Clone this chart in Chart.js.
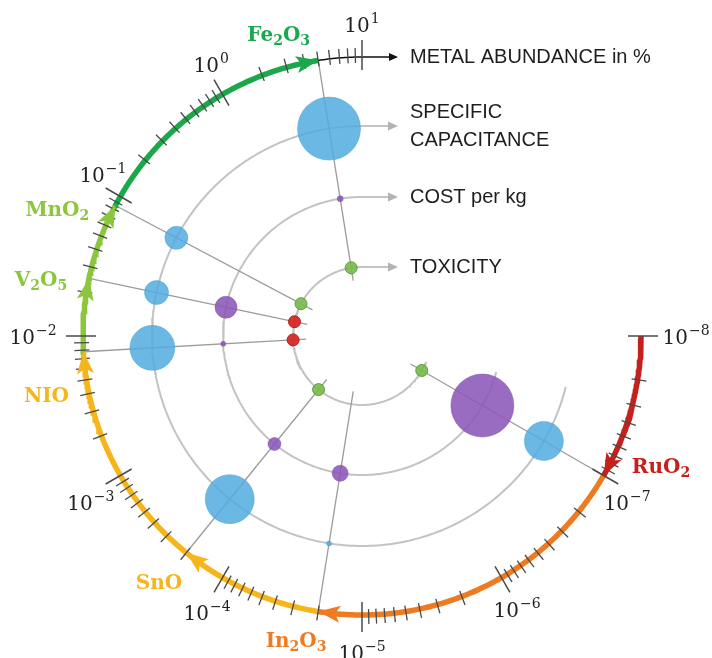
<!DOCTYPE html>
<html>
<head>
<meta charset="utf-8">
<script src="https://cdn.jsdelivr.net/npm/chart.js@4.4.0/dist/chart.umd.min.js"></script>
<style>
  html, body { margin: 0; padding: 0; background: #ffffff; }
  #wrap { width: 712px; height: 658px; }
</style>
</head>
<body>
<div id="wrap"><canvas id="chart" width="712" height="658"></canvas></div>
<script>
// ---- data -------------------------------------------------------------
const materials   = ['Fe2O3', 'MnO2', 'V2O5', 'NIO', 'SnO', 'In2O3', 'RuO2'];
// metal abundance in the Earth's crust, %
const abundance   = [5.0, 0.085, 0.025, 0.0078, 0.0002, 0.00002, 0.0000001];
// specific capacitance, relative score (bubble radius grows with it)
const capacitance = [31.5, 11.5, 12, 22.5, 24.5, 2.5, 19.5];
// cost per kg, relative score
const cost        = [3, 0, 11, 2.5, 6.5, 8, 31.5];
// toxicity class
const toxicity    = ['low', 'low', 'high', 'high', 'low', null, 'low'];
// decades shown on the abundance axis
const decadeExponents = [1, 0, -1, -2, -3, -4, -5, -6, -7, -8];
const ringTitles = [['SPECIFIC', 'CAPACITANCE'], ['COST per kg'], ['TOXICITY']];
const axisTitle = 'METAL ABUNDANCE in %';

// ---- geometry ----------------------------------------------------------
const W = 712, H = 658, CX = 362, CY = 336;
const AXIS_R = 279;               // radius of the abundance axis
const RING_R = [210, 139, 69];    // capacitance, cost, toxicity rings
const RING_END = [346, 345, 338]; // where each ring stops (deg)
const ARROW_X = 36;               // tip of the horizontal arrows
const SPOKE_IN = 56;
const CAP_SCALE = 1, COST_SCALE = 1, TOX_R = 6;

const rad = d => d * Math.PI / 180;
const pol = (deg, r) => ({ x: r * Math.cos(rad(deg)), y: r * Math.sin(rad(deg)) });
// log axis: 10^1 at the top, 30 degrees per decade, counter-clockwise
const angleOf = v => 90 + 30 * (1 - Math.log10(v));
const theta = abundance.map(angleOf);

const matColor = ['#1AA84A', '#8CC63F', '#8CC63F', '#F5B51B', '#F5B51B', '#EE7B22', '#C4201C'];

function ringPath(r, endDeg) {
  const pts = [{ x: ARROW_X - 7, y: r }, { x: 0, y: r }];
  for (let a = 91; a < endDeg; a += 1) pts.push(pol(a, r));
  pts.push(pol(endDeg, r));
  return pts;
}

// coloured part of the abundance axis, 10^-8 back up to the first oxide
const thTop = Math.min(...theta);
let arcAngles = [];
for (let a = 360; a > thTop; a -= 0.5) arcAngles.push(a);
theta.forEach(t => arcAngles.push(t));
arcAngles = [...new Set(arcAngles)].sort((a, b) => b - a);
const arcPts = arcAngles.map(a => pol(a, AXIS_R));

function destColor(a) {
  let best = -1, bt = -Infinity;
  theta.forEach((t, i) => { if (t < a && t > bt) { bt = t; best = i; } });
  return best >= 0 ? matColor[best] : '#000';
}

// black stub of the axis past the last oxide
const topPts = [];
for (let a = thTop; a > 90; a -= 0.5) topPts.push(pol(a, AXIS_R));
topPts.push({ x: 0, y: AXIS_R }, { x: ARROW_X - 6, y: AXIS_R });

const lineDs = (data, color, width, order, extra = {}) => Object.assign({
  type: 'scatter', data, showLine: true, borderColor: color, borderWidth: width,
  pointRadius: 0, pointHoverRadius: 0, fill: false, tension: 0, order
}, extra);

const datasets = [];
RING_R.forEach((r, k) => datasets.push(lineDs(ringPath(r, RING_END[k]), '#C3C3C3', 2, 8)));
theta.forEach(t => datasets.push(lineDs([pol(t, AXIS_R), pol(t, SPOKE_IN)], '#9C9C9C', 1.3, 7)));
datasets.push(lineDs(arcPts, '#000', 5.5, 6, {
  borderCapStyle: 'butt',
  segment: { borderColor: c => destColor((arcAngles[c.p0DataIndex] + arcAngles[c.p1DataIndex]) / 2) }
}));
datasets.push(lineDs(topPts, '#111', 1.5, 6));

const idx = materials.map((_, i) => i);
datasets.push({
  type: 'bubble', order: 2,
  data: idx.map(i => ({ ...pol(theta[i], RING_R[0]), r: capacitance[i] * CAP_SCALE })),
  backgroundColor: 'rgba(80,172,222,0.85)', borderColor: 'rgba(70,160,210,0.9)', borderWidth: 0.5
});
datasets.push({
  type: 'bubble', order: 2,
  data: idx.filter(i => cost[i] > 0).map(i => ({ ...pol(theta[i], RING_R[1]), r: cost[i] * COST_SCALE })),
  backgroundColor: 'rgba(140,88,184,0.88)', borderColor: 'rgba(120,70,165,0.9)', borderWidth: 0.5
});
datasets.push({
  type: 'bubble', order: 2,
  data: idx.filter(i => toxicity[i] === 'low').map(i => ({ ...pol(theta[i], RING_R[2]), r: TOX_R })),
  backgroundColor: 'rgba(122,187,78,0.92)', borderColor: '#5E9E3C', borderWidth: 1
});
datasets.push({
  type: 'bubble', order: 2,
  data: idx.filter(i => toxicity[i] === 'high').map(i => ({ ...pol(theta[i], RING_R[2]), r: TOX_R })),
  backgroundColor: 'rgba(214,42,38,0.95)', borderColor: '#B22020', borderWidth: 1
});

// ---- decorations: ticks, arrowheads, text -----------------------------
function arrowHead(ctx, tip, dir, L, Wd, notch, color) {
  const [tx, ty] = tip, [dx, dy] = dir, nx = -dy, ny = dx;
  const bx = tx - dx * L, by = ty - dy * L;
  ctx.beginPath();
  ctx.moveTo(tx, ty);
  ctx.lineTo(bx + nx * Wd / 2, by + ny * Wd / 2);
  ctx.lineTo(tx - dx * (L - notch), ty - dy * (L - notch));
  ctx.lineTo(bx - nx * Wd / 2, by - ny * Wd / 2);
  ctx.closePath();
  ctx.fillStyle = color;
  ctx.fill();
}

function drawChem(ctx, str, cx, cy, color) {
  const runs = str.match(/[A-Za-z]+|[0-9]+/g);
  const big = 'bold 20px "DejaVu Serif"', small = 'bold 14px "DejaVu Serif"';
  let w = 0;
  runs.forEach(r => { ctx.font = /\d/.test(r) ? small : big; w += ctx.measureText(r).width; });
  let x = cx - w / 2;
  ctx.fillStyle = color;
  ctx.textAlign = 'left';
  ctx.textBaseline = 'alphabetic';
  runs.forEach(r => {
    const sub = /\d/.test(r);
    ctx.font = sub ? small : big;
    ctx.fillText(r, x, cy + 7 + (sub ? 4 : 0));
    x += ctx.measureText(r).width;
  });
}

function drawPow(ctx, e, cx, cy) {
  const base = '10', sup = e < 0 ? '\u2212' + Math.abs(e) : String(e);
  const bf = '20px "DejaVu Serif"', sf = '14px "DejaVu Serif"';
  ctx.font = bf; const wb = ctx.measureText(base).width;
  ctx.font = sf; const ws = ctx.measureText(sup).width;
  const x = cx - (wb + ws + 1) / 2;
  ctx.fillStyle = '#222';
  ctx.textAlign = 'left';
  ctx.textBaseline = 'alphabetic';
  ctx.font = bf; ctx.fillText(base, x, cy + 8);
  ctx.font = sf; ctx.fillText(sup, x + wb + 1, cy - 1);
}

// label placement around the axis: [angle shift (deg), radius]
const tickLabelPlace = [[0, 312], [-1, 311], [-2, 305.5], [0, 329], [1.5, 318], [0.7, 316.5], [0, 316], [-0.4, 314], [-2, 312.7], [0, 324]];
const matLabelPlace = [[6.4, 313], [5.3, 330], [1.9, 326], [7.4, 321], [-0.5, 319], [-3.2, 311], [6.5, 326]];

const decor = {
  id: 'decor',
  afterDatasetsDraw(chart) {
    const ctx = chart.ctx, sx = chart.scales.x, sy = chart.scales.y;
    const px = p => [sx.getPixelForValue(p.x), sy.getPixelForValue(p.y)];
    const unit = (a, b) => { const dx = b[0] - a[0], dy = b[1] - a[1], l = Math.hypot(dx, dy); return [dx / l, dy / l]; };
    ctx.save();

    // axis ticks
    ctx.strokeStyle = '#4a4a4a';
    ctx.lineCap = 'butt';
    const tick = (a, r0, r1, lw) => {
      const p0 = px(pol(a, r0)), p1 = px(pol(a, r1));
      ctx.lineWidth = lw;
      ctx.beginPath(); ctx.moveTo(p0[0], p0[1]); ctx.lineTo(p1[0], p1[1]); ctx.stroke();
    };
    decadeExponents.forEach(e => tick(angleOf(Math.pow(10, e)), 266, 296, 1.5));
    for (let e = -8; e < 1; e++) {
      for (let k = 2; k <= 9; k++) tick(angleOf(k * Math.pow(10, e)), 273, 288, 1.3);
    }

    // arrowheads on the abundance axis
    theta.forEach((t, i) => {
      const tip = px(pol(t, AXIS_R)), back = px(pol(t + 4, AXIS_R));
      arrowHead(ctx, tip, unit(back, tip), 22, 17, 5, matColor[i]);
    });
    // horizontal arrows
    const axTip = px({ x: ARROW_X, y: AXIS_R });
    arrowHead(ctx, axTip, [1, 0], 9, 8, 0, '#111');
    RING_R.forEach(r => arrowHead(ctx, px({ x: ARROW_X, y: r }), [1, 0], 10, 9, 0, '#B3B3B3'));

    // decade labels
    decadeExponents.forEach((e, k) => {
      const [da, rr] = tickLabelPlace[k];
      const p = px(pol(angleOf(Math.pow(10, e)) + da, rr));
      drawPow(ctx, e, p[0], p[1]);
    });

    // oxide labels
    materials.forEach((m, i) => {
      const [da, rr] = matLabelPlace[i];
      const p = px(pol(theta[i] + da, rr));
      drawChem(ctx, m, p[0], p[1], matColor[i]);
    });

    // titles on the right
    ctx.fillStyle = '#1e1e1e';
    ctx.font = '20px "Liberation Sans"';
    ctx.textAlign = 'left';
    ctx.textBaseline = 'middle';
    const tx = axTip[0] + 12;
    ctx.fillText(axisTitle, tx, axTip[1]);
    RING_R.forEach((r, k) => {
      const y = px({ x: 0, y: r })[1];
      const lines = ringTitles[k];
      lines.forEach((s, j) => ctx.fillText(s, tx, y + (j - (lines.length - 1) / 2) * 28));
    });
    ctx.restore();
  }
};

new Chart(document.getElementById('chart'), {
  type: 'scatter',
  data: { datasets },
  options: {
    responsive: false,
    animation: false,
    events: [],
    layout: { padding: 0, autoPadding: false },
    plugins: { legend: { display: false }, tooltip: { enabled: false } },
    scales: {
      x: { type: 'linear', min: -CX, max: W - CX, display: false },
      y: { type: 'linear', min: -(H - CY), max: CY, display: false }
    }
  },
  plugins: [decor]
});
</script>
</body>
</html>
